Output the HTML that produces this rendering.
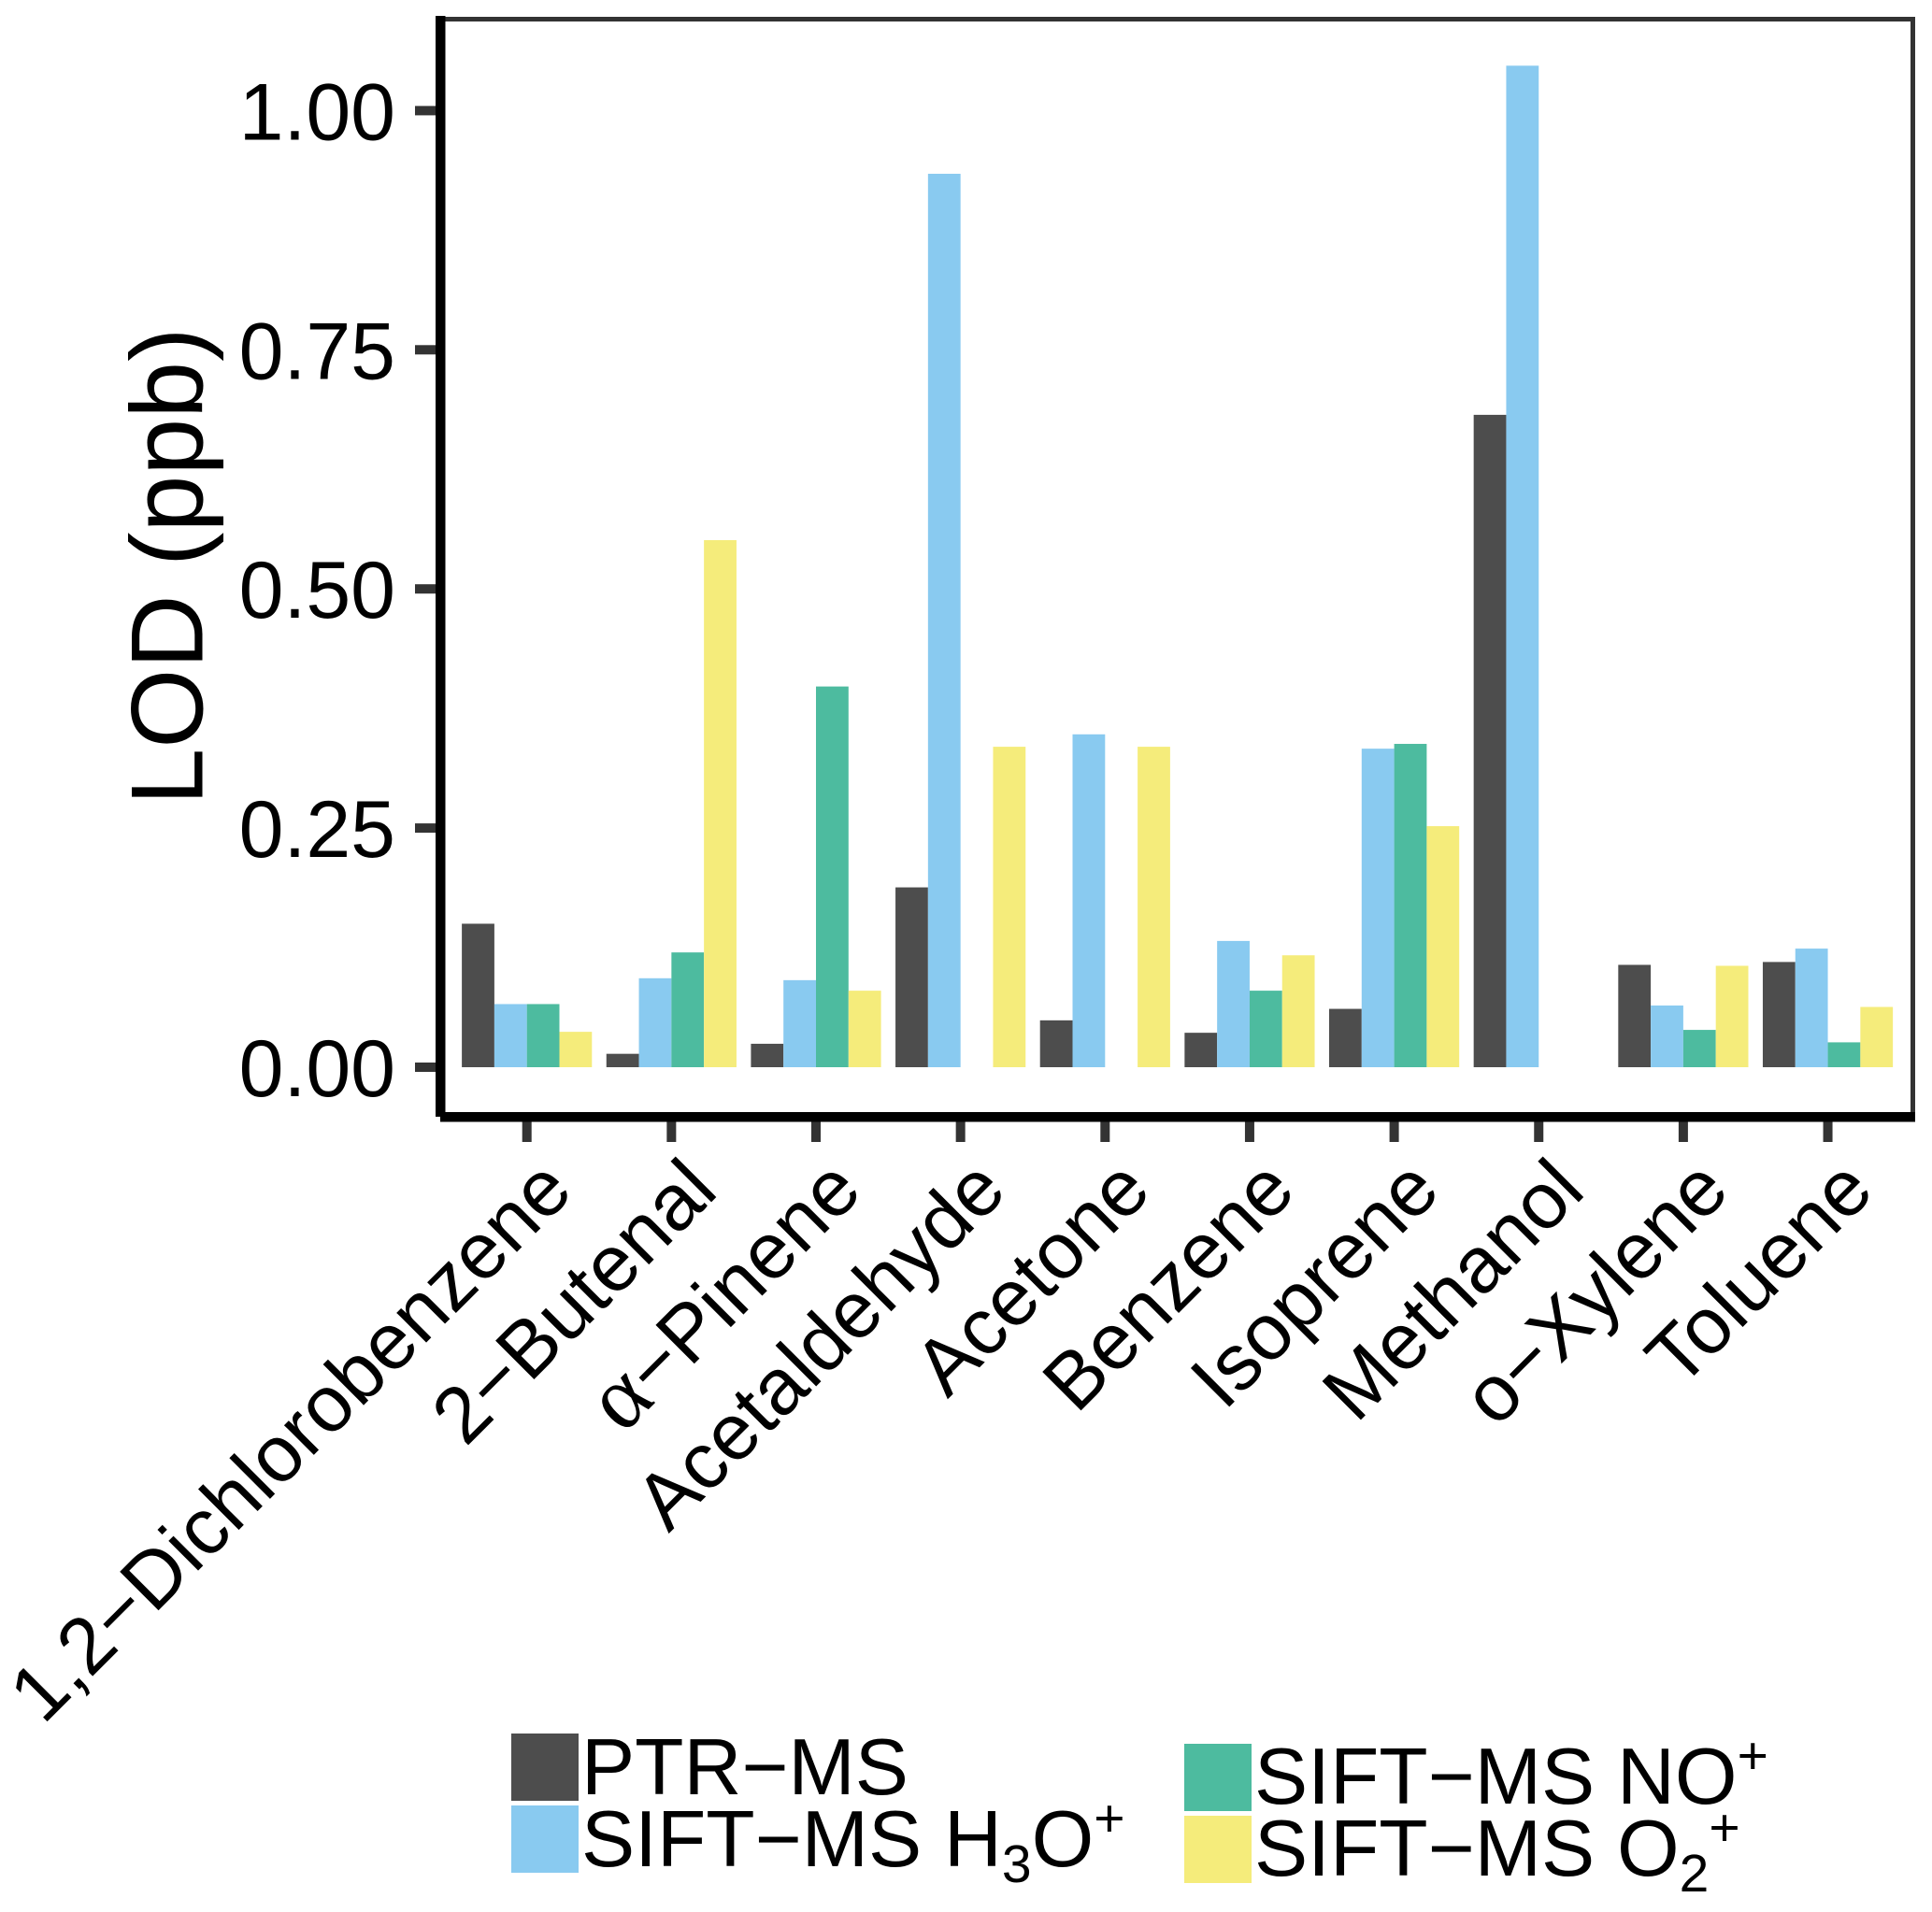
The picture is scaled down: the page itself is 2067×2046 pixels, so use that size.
<!DOCTYPE html>
<html lang="en">
<head>
<meta charset="utf-8">
<title>LOD by compound and instrument</title>
<style>
html,body{margin:0;padding:0;background:#fff;}
svg{display:block;}
text{font-family:"Liberation Sans",Arial,sans-serif;fill:#000;}
</style>
</head>
<body>
<svg id="chart" xmlns="http://www.w3.org/2000/svg" width="2067" height="2046" viewBox="0 0 2067 2046">
  <rect x="0" y="0" width="2067" height="2046" fill="#ffffff"/>
  <g id="bars"></g>
  <rect x="471" y="18" width="1578" height="5" fill="#333333"/>
  <rect x="2044" y="18" width="5" height="1178" fill="#333333"/>
  <g id="ticks"></g>
  <rect x="466" y="17" width="10.5" height="1178" fill="#000000"/>
  <rect x="471" y="1190" width="1578" height="10.5" fill="#000000"/>
  <g id="ylabels"></g>
  <g id="xlabels"></g>
  <text transform="translate(216.5,606) rotate(-90)" text-anchor="middle" font-size="109.5">LOD (ppb)</text>

  <g>
    <g>
      <rect x="547" y="1855" width="72" height="72" fill="#4D4D4D"/>
      <text x="622" y="1920" font-size="85.7">PTR−MS</text>
    </g>
    <g>
      <rect x="547" y="1932" width="72" height="72" fill="#89CAF0"/>
      <text x="622" y="1997" font-size="85.7">SIFT−MS H<tspan font-size="57" dy="17">3</tspan><tspan dy="-17">O</tspan><tspan font-size="57" dy="-32">+</tspan></text>
    </g>
    <g>
      <rect x="1267" y="1866" width="72" height="72" fill="#4DBB9F"/>
      <text x="1342" y="1930" font-size="85.7">SIFT−MS NO<tspan font-size="57" dy="-32">+</tspan></text>
    </g>
    <g>
      <rect x="1267" y="1943" width="72" height="72" fill="#F5EC7B"/>
      <text x="1342" y="2007" font-size="85.7">SIFT−MS O<tspan font-size="57" dy="17">2</tspan><tspan font-size="57" dy="-49">+</tspan></text>
    </g>
  </g>
</svg>
<script>
const categories = ["1,2−Dichlorobenzene","2−Butenal","α−Pinene","Acetaldehyde","Acetone","Benzene","Isoprene","Methanol","o−Xylene","Toluene"];
const ptrMs = [0.150,0.014,0.0245,0.188,0.049,0.036,0.061,0.682,0.107,0.110];
const siftH3O = [0.066,0.093,0.091,0.934,0.348,0.132,0.333,1.047,0.0645,0.124];
const siftNO = [0.066,0.120,0.398,null,null,0.080,0.338,null,0.039,0.026];
const siftO2 = [0.037,0.551,0.080,0.335,0.335,0.117,0.252,null,0.106,0.063];
const yTicks = [0,0.25,0.5,0.75,1];
const yTickLabels = ["0.00","0.25","0.50","0.75","1.00"];
const seriesNames = ["ptr-ms","h3o","no","o2"];
const seriesColors = ["#4D4D4D","#89CAF0","#4DBB9F","#F5EC7B"];

const NS = "http://www.w3.org/2000/svg";
const allSeries = [ptrMs, siftH3O, siftNO, siftO2];
const bandStep = 154.65;
const firstCenter = 563.7;
const barWidth = bandStep * 0.9 / 4;

function xScale(i) { return firstCenter + i * bandStep; }
function yScale(v) { return 1142 - 1023.6 * v; }

const barsGroup = document.getElementById("bars");
const ticksGroup = document.getElementById("ticks");
const yLabelGroup = document.getElementById("ylabels");
const xLabelGroup = document.getElementById("xlabels");

allSeries.forEach(function (series, s) {
  series.forEach(function (v, i) {
    if (v === null) return;
    const r = document.createElementNS(NS, "rect");
    
    
    r.setAttribute("x", xScale(i) - 2 * barWidth + s * barWidth);
    r.setAttribute("y", yScale(v));
    r.setAttribute("width", barWidth);
    r.setAttribute("height", yScale(0) - yScale(v));
    r.setAttribute("fill", seriesColors[s]);
    barsGroup.appendChild(r);
  });
});

yTicks.forEach(function (t, i) {
  const tick = document.createElementNS(NS, "rect");
  
  
  tick.setAttribute("x", 444);
  tick.setAttribute("y", yScale(t) - 5);
  tick.setAttribute("width", 28);
  tick.setAttribute("height", 10);
  tick.setAttribute("fill", "#333333");
  ticksGroup.appendChild(tick);

  const label = document.createElementNS(NS, "text");
  
  
  label.setAttribute("x", 423);
  label.setAttribute("y", yScale(t) + 31);
  label.setAttribute("text-anchor", "end");
  label.setAttribute("font-size", "86");
  label.textContent = yTickLabels[i];
  yLabelGroup.appendChild(label);
});

categories.forEach(function (c, i) {
  const tick = document.createElementNS(NS, "rect");
  
  
  tick.setAttribute("x", xScale(i) - 5);
  tick.setAttribute("y", 1196);
  tick.setAttribute("width", 10);
  tick.setAttribute("height", 26);
  tick.setAttribute("fill", "#333333");
  ticksGroup.appendChild(tick);

  const label = document.createElementNS(NS, "text");
  
  
  label.setAttribute("transform", "translate(" + (xScale(i) + 52) + ",1277) rotate(-45)");
  label.setAttribute("text-anchor", "end");
  label.setAttribute("font-size", "85");
  if (c.charAt(0) === "α") {
    const alpha = document.createElementNS(NS, "tspan");
    alpha.setAttribute("style", 'font-family:"Liberation Serif",serif;font-size:98px');
    alpha.textContent = "α";
    label.appendChild(alpha);
    label.appendChild(document.createTextNode(c.slice(1)));
  } else {
    label.textContent = c;
  }
  xLabelGroup.appendChild(label);
});
</script>
</body>
</html>
